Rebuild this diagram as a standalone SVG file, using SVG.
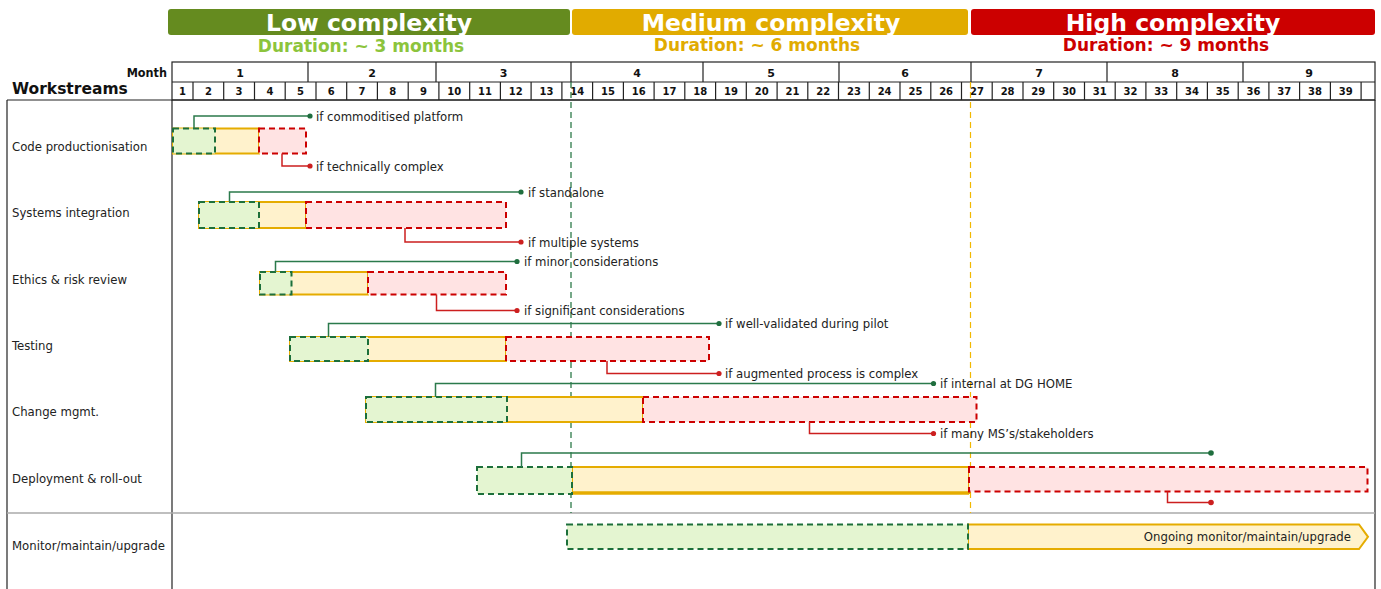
<svg xmlns="http://www.w3.org/2000/svg" width="1381" height="589" viewBox="0 0 1381 589">
  <style>
    .banner-t { font-family: "DejaVu Sans", sans-serif; font-weight: bold; font-size: 23.5px; fill: #ffffff; text-anchor: middle; }
    .dur { font-family: "DejaVu Sans", sans-serif; font-weight: bold; font-size: 17px; text-anchor: middle; }
    .mon { font-family: "DejaVu Sans", sans-serif; font-weight: bold; font-size: 11px; fill: #111; text-anchor: middle; }
    .wk { font-family: "DejaVu Sans", sans-serif; font-weight: bold; font-size: 10px; fill: #111; text-anchor: middle; }
    .grid { stroke: #222; stroke-width: 1.2; fill: none; }
    .row-label { font-family: "DejaVu Sans Condensed", "DejaVu Sans", sans-serif; font-size: 13px; fill: #222; }
    .note { font-family: "DejaVu Sans Condensed", "DejaVu Sans", sans-serif; font-size: 13px; fill: #222; }
    .g-box { fill: #e4f5d1; stroke: #1c6f3a; stroke-width: 2; stroke-dasharray: 6 4; }
    .y-box { fill: #fff2cc; stroke: #e5ac00; stroke-width: 2; }
    .r-box { fill: #ffe3e3; stroke: #cc0000; stroke-width: 2; stroke-dasharray: 6 4; }
    .g-line { fill: none; stroke: #2b7a4b; stroke-width: 1.5; }
    .r-line { fill: none; stroke: #cc1f1f; stroke-width: 1.5; }
    .g-dot { fill: #1f6e3e; }
    .r-dot { fill: #cc1f1f; }
  </style>

  <!-- complexity banners -->
  <g id="banner-low">
    <rect x="168" y="9" width="402" height="26" rx="3" fill="#658b1f"/>
    <text class="banner-t" x="369" y="30.5">Low complexity</text>
    <text class="dur" x="361" y="52" fill="#8cc43c">Duration: ~ 3 months</text>
  </g>
  <g id="banner-medium">
    <rect x="572" y="9" width="396" height="26" rx="3" fill="#e1ab00"/>
    <text class="banner-t" x="771" y="30.5">Medium complexity</text>
    <text class="dur" x="757" y="51" fill="#e1ab00">Duration: ~ 6 months</text>
  </g>
  <g id="banner-high">
    <rect x="971" y="9" width="404" height="26" rx="3" fill="#cc0000"/>
    <text class="banner-t" x="1173" y="30.5">High complexity</text>
    <text class="dur" x="1166" y="51" fill="#cc0000">Duration: ~ 9 months</text>
  </g>

  <!-- timeline header: months and weeks -->
  <g id="timeline">
    <text x="167" y="77" font-family="DejaVu Sans Condensed, DejaVu Sans, sans-serif" font-weight="bold" font-size="12.5" text-anchor="end" fill="#111">Month</text>
    <text x="12" y="94" font-family="DejaVu Sans, sans-serif" font-weight="bold" font-size="15.5" fill="#111">Workstreams</text>
    <rect class="grid" x="172" y="62" width="1203" height="38"/>
    <line class="grid" x1="172" y1="82" x2="1375" y2="82"/>
    <!-- month separators -->
    <path class="grid" d="M308,62V82 M436,62V82 M571,62V82 M703,62V82 M839,62V82 M971,62V82 M1107,62V82 M1243,62V82"/>
    <text class="mon" x="240" y="77">1</text>
    <text class="mon" x="372" y="77">2</text>
    <text class="mon" x="503.5" y="77">3</text>
    <text class="mon" x="637" y="77">4</text>
    <text class="mon" x="771" y="77">5</text>
    <text class="mon" x="905" y="77">6</text>
    <text class="mon" x="1039" y="77">7</text>
    <text class="mon" x="1175" y="77">8</text>
    <text class="mon" x="1309" y="77">9</text>
    <!-- week separators -->
    <path class="grid" d="M193,82V100 M223.7,82V100 M254.5,82V100 M285.2,82V100 M316,82V100 M346.7,82V100 M377.4,82V100 M408.2,82V100 M438.9,82V100 M469.7,82V100 M500.4,82V100 M531.1,82V100 M561.9,82V100 M592.6,82V100 M623.4,82V100 M654.1,82V100 M684.8,82V100 M715.6,82V100 M746.3,82V100 M777.1,82V100 M807.8,82V100 M838.5,82V100 M869.3,82V100 M900,82V100 M930.8,82V100 M961.5,82V100 M992.2,82V100 M1023,82V100 M1053.7,82V100 M1084.5,82V100 M1115.2,82V100 M1145.9,82V100 M1176.7,82V100 M1207.4,82V100 M1238.2,82V100 M1268.9,82V100 M1299.6,82V100 M1330.4,82V100 M1361.1,82V100"/>
    <text class="wk" x="182.5" y="95">1</text>
    <text class="wk" x="208.4" y="95">2</text>
    <text class="wk" x="239.1" y="95">3</text>
    <text class="wk" x="269.9" y="95">4</text>
    <text class="wk" x="300.6" y="95">5</text>
    <text class="wk" x="331.3" y="95">6</text>
    <text class="wk" x="362.1" y="95">7</text>
    <text class="wk" x="392.8" y="95">8</text>
    <text class="wk" x="423.5" y="95">9</text>
    <text class="wk" x="454.3" y="95">10</text>
    <text class="wk" x="485" y="95">11</text>
    <text class="wk" x="515.8" y="95">12</text>
    <text class="wk" x="546.5" y="95">13</text>
    <text class="wk" x="577.3" y="95">14</text>
    <text class="wk" x="608" y="95">15</text>
    <text class="wk" x="638.7" y="95">16</text>
    <text class="wk" x="669.5" y="95">17</text>
    <text class="wk" x="700.2" y="95">18</text>
    <text class="wk" x="730.9" y="95">19</text>
    <text class="wk" x="761.7" y="95">20</text>
    <text class="wk" x="792.4" y="95">21</text>
    <text class="wk" x="823.2" y="95">22</text>
    <text class="wk" x="853.9" y="95">23</text>
    <text class="wk" x="884.6" y="95">24</text>
    <text class="wk" x="915.4" y="95">25</text>
    <text class="wk" x="946.1" y="95">26</text>
    <text class="wk" x="976.9" y="95">27</text>
    <text class="wk" x="1007.6" y="95">28</text>
    <text class="wk" x="1038.3" y="95">29</text>
    <text class="wk" x="1069.1" y="95">30</text>
    <text class="wk" x="1099.8" y="95">31</text>
    <text class="wk" x="1130.5" y="95">32</text>
    <text class="wk" x="1161.3" y="95">33</text>
    <text class="wk" x="1192" y="95">34</text>
    <text class="wk" x="1222.8" y="95">35</text>
    <text class="wk" x="1253.5" y="95">36</text>
    <text class="wk" x="1284.2" y="95">37</text>
    <text class="wk" x="1315" y="95">38</text>
    <text class="wk" x="1345.7" y="95">39</text>
  </g>

  <!-- body frame -->
  <g id="frame">
    <line class="grid" x1="7" y1="100" x2="1375" y2="100"/>
    <line class="grid" x1="7" y1="100" x2="7" y2="589"/>
    <line class="grid" x1="172" y1="100" x2="172" y2="589"/>
    <line class="grid" x1="1375" y1="100" x2="1375" y2="589"/>
    <line x1="7" y1="513" x2="1375" y2="513" stroke="#aaaaaa" stroke-width="1.5"/>
    <!-- phase boundaries -->
    <line x1="571" y1="82" x2="571" y2="513" stroke="#1c6f3a" stroke-width="1.2" stroke-dasharray="6 4"/>
    <line x1="970.5" y1="82" x2="970.5" y2="513" stroke="#f2b800" stroke-width="1.2" stroke-dasharray="6 4"/>
  </g>

  <!-- workstreams -->
  <g id="ws-code">
    <text class="row-label" x="12" y="150.5">Code productionisation</text>
    <rect class="y-box" x="173" y="128.5" width="86" height="25"/>
    <rect class="g-box" x="173" y="128.5" width="42" height="25"/>
    <rect class="r-box" x="259" y="128.5" width="47" height="25"/>
  </g>
  <g id="ws-systems">
    <text class="row-label" x="12" y="217">Systems integration</text>
    <rect class="y-box" x="199" y="202" width="107" height="26"/>
    <rect class="g-box" x="199" y="202" width="60" height="26"/>
    <rect class="r-box" x="306" y="202" width="200" height="26"/>
  </g>
  <g id="ws-ethics">
    <text class="row-label" x="12" y="283.5">Ethics &amp; risk review</text>
    <rect class="y-box" x="260" y="272" width="108" height="22.5"/>
    <rect class="g-box" x="260" y="272" width="31.5" height="22.5"/>
    <rect class="r-box" x="368" y="272" width="138" height="22.5"/>
  </g>
  <g id="ws-testing">
    <text class="row-label" x="12" y="350">Testing</text>
    <rect class="y-box" x="290" y="337" width="216" height="24"/>
    <rect class="g-box" x="290" y="337" width="78" height="24"/>
    <rect class="r-box" x="506" y="337" width="203" height="24"/>
  </g>
  <g id="ws-change">
    <text class="row-label" x="12" y="416">Change mgmt.</text>
    <rect class="y-box" x="366" y="397" width="277" height="25"/>
    <rect class="g-box" x="366" y="397" width="141" height="25"/>
    <rect class="r-box" x="643" y="397" width="333.5" height="25"/>
  </g>
  <g id="ws-deploy">
    <text class="row-label" x="12" y="482.5">Deployment &amp; roll-out</text>
    <rect class="y-box" x="572" y="467" width="397" height="26"/>
    <line x1="572" y1="493" x2="969" y2="493" stroke="#e5ac00" stroke-width="3.5"/>
    <rect class="g-box" x="477" y="467" width="95" height="27"/>
    <rect class="r-box" x="969" y="467" width="398.5" height="24.5"/>
  </g>
  <g id="ws-monitor">
    <text class="row-label" x="12" y="549.5">Monitor/maintain/upgrade</text>
    <polygon class="y-box" points="968,524.5 1359,524.5 1368,536.8 1359,549 968,549"/>
    <rect class="g-box" x="567" y="524.5" width="401" height="24.5"/>
    <text class="note" x="1351" y="541" text-anchor="end">Ongoing monitor/maintain/upgrade</text>
  </g>

  <!-- condition callouts -->
  <g id="connectors">
    <path class="g-line" d="M194,128.5V116H310"/>
    <circle class="g-dot" cx="310" cy="116" r="2.6"/>
    <path class="r-line" d="M282,153.5V166H310"/>
    <circle class="r-dot" cx="310" cy="166" r="2.6"/>

    <path class="g-line" d="M229.5,202V192H521"/>
    <circle class="g-dot" cx="521" cy="192" r="2.6"/>
    <path class="r-line" d="M405,228V242H521"/>
    <circle class="r-dot" cx="521" cy="242" r="2.6"/>

    <path class="g-line" d="M275.5,272V261.5H517"/>
    <circle class="g-dot" cx="517" cy="261.5" r="2.6"/>
    <path class="r-line" d="M436.5,294.5V310.5H517"/>
    <circle class="r-dot" cx="517" cy="310.5" r="2.6"/>

    <path class="g-line" d="M328.5,337V323.5H719"/>
    <circle class="g-dot" cx="719" cy="323.5" r="2.6"/>
    <path class="r-line" d="M607,361V373.5H719"/>
    <circle class="r-dot" cx="719" cy="373.5" r="2.6"/>

    <path class="g-line" d="M435.5,397V383.5H933.5"/>
    <circle class="g-dot" cx="933.5" cy="383.5" r="2.6"/>
    <path class="r-line" d="M809.5,422V433.5H933.5"/>
    <circle class="r-dot" cx="933.5" cy="433.5" r="2.6"/>

    <path class="g-line" d="M521.5,467V453H1211"/>
    <circle class="g-dot" cx="1211" cy="453" r="2.8"/>
    <path class="r-line" d="M1167.5,491.5V502.5H1211"/>
    <circle class="r-dot" cx="1211" cy="502.5" r="2.8"/>
  </g>

  <!-- callout texts -->
  <g id="notes">
    <text class="note" x="316" y="120.5">if commoditised platform</text>
    <text class="note" x="316" y="170.5">if technically complex</text>
    <text class="note" x="528" y="196.5">if standalone</text>
    <text class="note" x="528" y="246.5">if multiple systems</text>
    <text class="note" x="524" y="266">if minor considerations</text>
    <text class="note" x="524" y="315">if significant considerations</text>
    <text class="note" x="725" y="328">if well-validated during pilot</text>
    <text class="note" x="725" y="378">if augmented process is complex</text>
    <text class="note" x="940" y="388">if internal at DG HOME</text>
    <text class="note" x="940" y="438">if many MS’s/stakeholders</text>
  </g>
</svg>
